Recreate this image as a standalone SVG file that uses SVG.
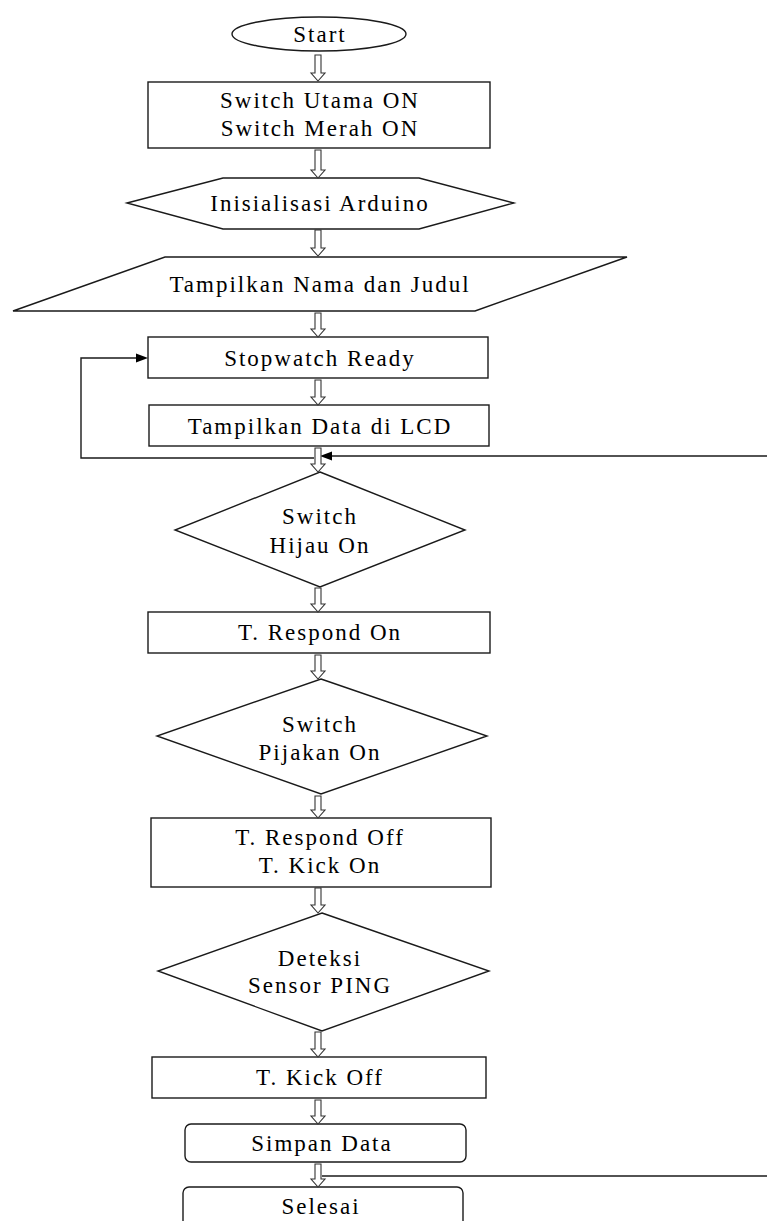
<svg xmlns="http://www.w3.org/2000/svg" width="767" height="1221" viewBox="0 0 767 1221">
<style>
.n{fill:#fff;stroke:#1a1a1a;stroke-width:1.4}
.t{font-family:"Liberation Serif","DejaVu Serif","Times New Roman",serif;font-size:23px;letter-spacing:2px;fill:#000;text-anchor:middle}
.ba{fill:#fff;stroke:#333;stroke-width:1.1}
.ln{fill:none;stroke:#1a1a1a;stroke-width:1.4}
.ah{fill:#000}
</style>
<rect width="767" height="1221" fill="#fff"/>
<g id="start"><ellipse class="n" cx="319" cy="34" rx="87" ry="17"/><text class="t" x="320" y="42">Start</text></g>
<g id="switch-utama"><rect class="n" x="148" y="82" width="342" height="66"/><text class="t" x="320" y="108">Switch Utama ON</text><text class="t" x="320" y="136">Switch Merah ON</text></g>
<g id="inisialisasi"><polygon class="n" points="127,203 223,178 419,178 514,203 419,229 223,229"/><text class="t" x="320" y="211">Inisialisasi Arduino</text></g>
<g id="tampilkan-nama"><polygon class="n" points="165,257 627,257 475,311 13,311"/><text class="t" x="320" y="292">Tampilkan Nama dan Judul</text></g>
<g id="stopwatch-ready"><rect class="n" x="148" y="337" width="340" height="41"/><text class="t" x="320" y="366">Stopwatch Ready</text></g>
<g id="tampilkan-lcd"><rect class="n" x="149" y="405" width="340" height="41"/><text class="t" x="320" y="434">Tampilkan Data di LCD</text></g>
<g id="switch-hijau"><polygon class="n" points="320,472 465,530 320,587 175,530"/><text class="t" x="320" y="524">Switch</text><text class="t" x="320" y="553">Hijau On</text></g>
<g id="respond-on"><rect class="n" x="148" y="612" width="342" height="41"/><text class="t" x="320" y="640">T. Respond On</text></g>
<g id="switch-pijakan"><polygon class="n" points="321,679 487,736 321,794 157,736"/><text class="t" x="320" y="732">Switch</text><text class="t" x="320" y="760">Pijakan On</text></g>
<g id="respond-off"><rect class="n" x="151" y="818" width="340" height="69"/><text class="t" x="320" y="845">T. Respond Off</text><text class="t" x="320" y="873">T. Kick On</text></g>
<g id="deteksi"><polygon class="n" points="322,913 489,971 322,1031 158,971"/><text class="t" x="320" y="966">Deteksi</text><text class="t" x="320" y="993">Sensor PING</text></g>
<g id="kick-off"><rect class="n" x="152" y="1057" width="334" height="41"/><text class="t" x="320" y="1085">T. Kick Off</text></g>
<g id="simpan"><rect class="n" x="185" y="1124" width="281" height="38" rx="6"/><text class="t" x="322" y="1151">Simpan Data</text></g>
<g id="selesai"><rect class="n" x="183" y="1187" width="280" height="40" rx="6"/><text class="t" x="321" y="1214">Selesai</text></g>
<g id="connectors">
<path class="ba" d="M315,55H321V73H325L318,81L311,73H315Z"/>
<path class="ba" d="M315,150H321V170H325L318,178L311,170H315Z"/>
<path class="ba" d="M315,230H321V248H325L318,256L311,248H315Z"/>
<path class="ba" d="M315,313H321V329H325L318,337L311,329H315Z"/>
<path class="ba" d="M315,380H321V397H325L318,405L311,397H315Z"/>
<path class="ln" d="M314,458H81V358H138"/>
<polygon class="ah" points="148,358 136,353.5 136,362.5"/>
<path class="ln" d="M767,456H330"/>
<polygon class="ah" points="320,456 332,451.5 332,460.5"/>
<path class="ba" d="M315,448H321V464H325L318,472L311,464H315Z"/>
<path class="ba" d="M315,588H321V604H325L318,612L311,604H315Z"/>
<path class="ba" d="M315,655H321V671H325L318,679L311,671H315Z"/>
<path class="ba" d="M315,796H321V810H325L318,818L311,810H315Z"/>
<path class="ba" d="M315,888H321V905H325L318,913L311,905H315Z"/>
<path class="ba" d="M315,1032H321V1049H325L318,1057L311,1049H315Z"/>
<path class="ba" d="M315,1100H321V1116H325L318,1124L311,1116H315Z"/>
<path class="ba" d="M315,1164H321V1179H325L318,1187L311,1179H315Z"/>
<path class="ln" d="M322,1176H767"/>
</g>
</svg>
